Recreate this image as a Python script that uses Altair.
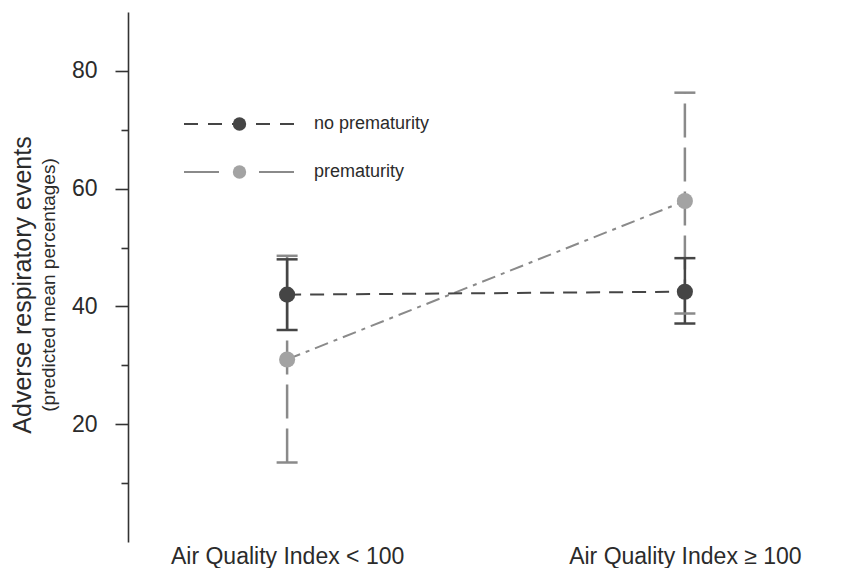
import altair as alt
import pandas as pd

# ---- data ----
groups = ["no prematurity", "prematurity"]
aqi_pos = [1, 2]
aqi_labels = ["Air Quality Index < 100", "Air Quality Index \u2265 100"]
y_ticks = [10, 20, 30, 40, 50, 60, 70, 80]

no_prem_mean = [42.0, 42.5]
no_prem_low = [36.0, 37.1]
no_prem_high = [48.0, 48.2]

prem_mean = [31.0, 57.9]
prem_low = [13.5, 38.8]
prem_high = [48.6, 76.3]

# second key for the marker legend (kept distinct so the two legends stay separate)
marker_keys = [g + " " for g in groups]

rows = []
for g, k, means, lows, highs in [
    (groups[0], marker_keys[0], no_prem_mean, no_prem_low, no_prem_high),
    (groups[1], marker_keys[1], prem_mean, prem_low, prem_high),
]:
    for x, m, lo, hi in zip(aqi_pos, means, lows, highs):
        rows.append(dict(group=g, marker=k, aqi=x, mean=m, low=lo, high=hi))
df = pd.DataFrame(rows)

DARK = "#454545"
LIGHT = "#a3a3a3"
LIGHT_LINE = "#8a8a8a"
FONT = "Liberation Sans"
TXT = "#2b2b2b"

xs = alt.Scale(domain=[0.6292, 2.2752])
ys = alt.Scale(domain=[3.55, 84.6])

label_expr = " : ".join(
    [f"datum.value == {p} ? '{l}'" for p, l in zip(aqi_pos[:-1], aqi_labels[:-1])]
    + [f"'{aqi_labels[-1]}'"]
)

X = alt.X(
    "aqi:Q",
    scale=xs,
    axis=alt.Axis(
        values=aqi_pos, labelExpr=label_expr, domain=False, ticks=False, grid=False,
        labelFontSize=23, labelPadding=3, labelColor=TXT, labelFont=FONT, title=None,
        labelLimit=600,
    ),
)
Y = alt.Y(
    "mean:Q",
    scale=ys,
    axis=alt.Axis(
        values=y_ticks,
        labelExpr="datum.value % 20 === 0 ? datum.label : ''",
        tickSize={"condition": {"test": "datum.value % 20 === 0", "value": 13}, "value": 7},
        grid=False, title=None, labelFontSize=23, labelFont=FONT, labelColor=TXT,
        labelPadding=18, domainColor="#333333", domainWidth=1.6,
        tickColor="#333333", tickWidth=1.6,
    ),
)

base = alt.Chart(df)
leg_common = dict(
    orient="none", title=None, labelFontSize=18, labelFont=FONT, labelColor=TXT,
)

# one line-legend per group (stroke symbols are tall, so each entry gets its own legend)
line_colors = [DARK, LIGHT_LINE]
line_dashes = [[14, 10], [35, 40]]
legend_tops = [55, 103]
legend_layers = []
for g, c, d, top in zip(groups, line_colors, line_dashes, legend_tops):
    lg = alt.Legend(legendX=55, legendY=top, symbolType="stroke", symbolSize=12544,
                    symbolStrokeWidth=2, labelOffset=17, **leg_common)
    legend_layers.append(
        base.transform_filter(f"datum.group == '{g}' && datum.aqi == 1")
        .mark_line(strokeWidth=2)
        .encode(
            x=X, y=Y,
            color=alt.Color("group:N", scale=alt.Scale(domain=[g], range=[c]), legend=lg),
            strokeDash=alt.StrokeDash("group:N", scale=alt.Scale(domain=[g], range=[d]), legend=lg),
        )
    )

dark_line = base.transform_filter(f"datum.group == '{groups[0]}'").mark_line(
    color=DARK, strokeDash=[14, 9], strokeWidth=2).encode(x="aqi:Q", y="mean:Q")
light_line = base.transform_filter(f"datum.group == '{groups[1]}'").mark_line(
    color=LIGHT_LINE, strokeDash=[14, 6, 4, 6], strokeWidth=2).encode(x="aqi:Q", y="mean:Q")

dark_rule = base.transform_filter(f"datum.group == '{groups[0]}'").mark_rule(
    color=DARK, strokeWidth=2.5).encode(x="aqi:Q", y="low:Q", y2="high:Q")
light_rule = base.transform_filter(f"datum.group == '{groups[1]}'").mark_rule(
    color=LIGHT_LINE, strokeWidth=2.5, strokeDash=[34, 10]).encode(x="aqi:Q", y="low:Q", y2="high:Q")

light_caps = base.transform_filter(f"datum.group == '{groups[1]}'").transform_fold(
    ["low", "high"], as_=["end", "val"]).mark_tick(
    orient="horizontal", size=21, thickness=2.5, color=LIGHT_LINE, opacity=1).encode(
    x="aqi:Q", y="val:Q")
dark_caps = base.transform_filter(f"datum.group == '{groups[0]}'").transform_fold(
    ["low", "high"], as_=["end", "val"]).mark_tick(
    orient="horizontal", size=21, thickness=2.5, color=DARK, opacity=1).encode(
    x="aqi:Q", y="val:Q")

points = base.mark_point(filled=True, size=260, opacity=1, strokeWidth=0).encode(
    x="aqi:Q", y="mean:Q",
    fill=alt.Fill("marker:N", scale=alt.Scale(domain=marker_keys, range=[DARK, LIGHT]),
                  legend=alt.Legend(legendX=102.5, legendY=103, rowPadding=30,
                                    symbolType="circle", symbolSize=180,
                                    symbolStrokeWidth=0, labelExpr="' '",
                                    labelOffset=17, **leg_common)),
)

chart = alt.layer(
    *legend_layers, light_line, dark_line, light_rule, dark_rule, light_caps, dark_caps, points
).resolve_scale(
    color="independent", strokeDash="independent"
).properties(
    width=716, height=530, autosize="none",
    padding={"left": 128, "top": 12, "right": 0, "bottom": 26},
    title=alt.TitleParams(
        text="Adverse respiratory events", subtitle="(predicted mean percentages)",
        orient="left", anchor="middle", fontSize=25, subtitleFontSize=19,
        font=FONT, subtitleFont=FONT, fontWeight="normal", color=TXT, subtitleColor=TXT,
        offset=12, subtitlePadding=4, dx=-8,
    ),
).configure(background="white").configure_view(
    stroke="transparent", strokeWidth=0).configure_axisX(domain=False, grid=False)

chart.save("out.html", embed_options={"renderer": "svg", "actions": False})
